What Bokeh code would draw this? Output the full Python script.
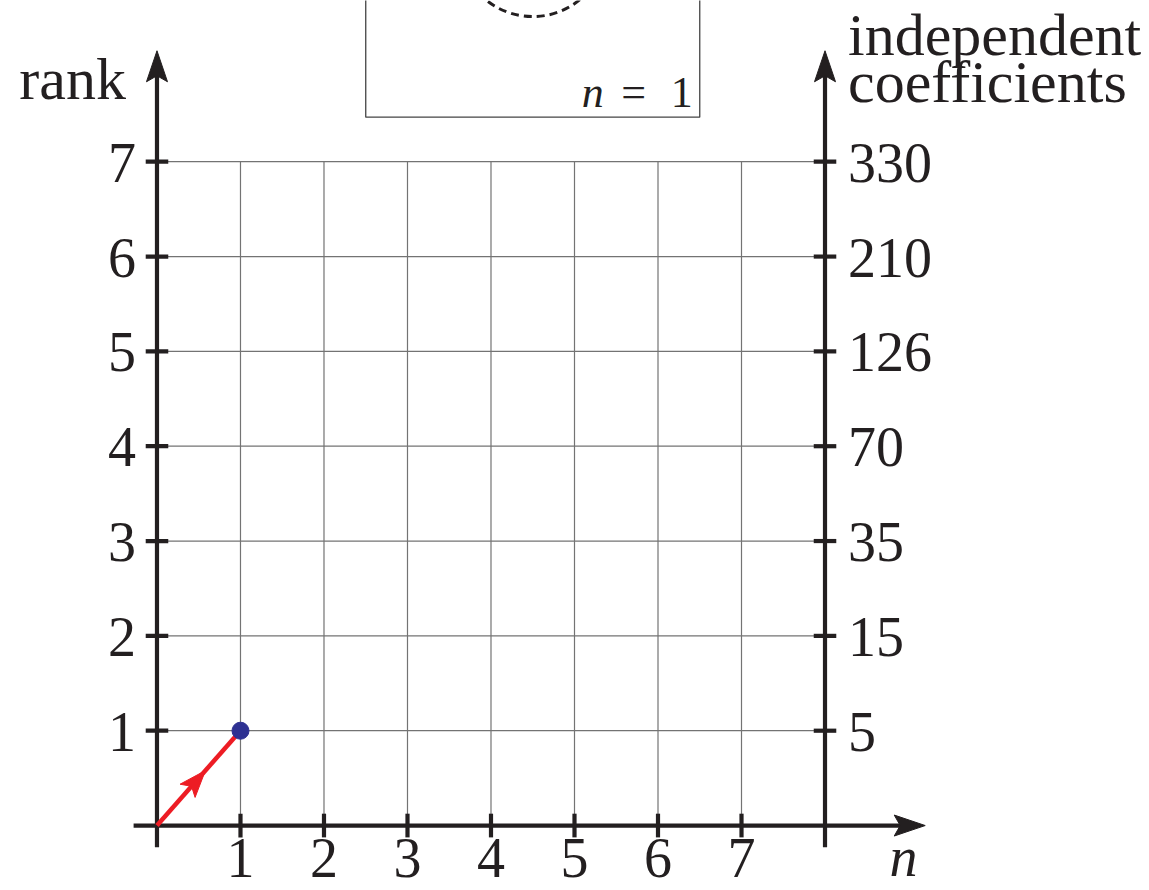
import math
from bokeh.plotting import figure
from bokeh.models import Range1d
from bokeh.core.properties import value
from bokeh.embed import file_html
from bokeh.resources import INLINE

# ---- data -------------------------------------------------------------
n_ticks = [1, 2, 3, 4, 5, 6, 7]
n_tick_labels = ["1", "2", "3", "4", "5", "6", "7"]
rank_ticks = [1, 2, 3, 4, 5, 6, 7]
rank_tick_labels = ["1", "2", "3", "4", "5", "6", "7"]
coeff_tick_labels = ["5", "15", "35", "70", "126", "210", "330"]

# highlighted state
point_n = [1]
point_rank = [1]

# ---- styling / layout -------------------------------------------------
INK = "#231f20"
GRID = "#737373"
RED = "#ed1c24"
BLUE = "#2e3192"
SERIF = "Liberation Serif"

W, H = 1149, 890
X0, X1 = -1.874, 11.886
Y0, Y1 = -0.685, 8.70
SX = W / (X1 - X0)   # pixels per x unit
SY = H / (Y1 - Y0)   # pixels per y unit

X_MAX = 8          # right-hand axis position
Y_MAX = 7          # top grid row
Y_TIP = 8.17       # arrow tip of the vertical axes
X_TIP = 9.2        # arrow tip of the horizontal axis
AX_LOW = -0.23     # how far axes run past the origin

p = figure(width=W, height=H, output_backend="svg", toolbar_location=None,
           x_range=Range1d(X0, X1), y_range=Range1d(Y0, Y1),
           x_axis_type=None, y_axis_type=None, min_border=0,
           outline_line_color=None, background_fill_color="white")
p.grid.visible = False


def arrow_head(tx, ty, dx, dy, length, half_w, notch, color):
    """Filled arrow head with its tip at (tx, ty), pointing along the screen
    direction (dx, dy); sizes are in pixels."""
    norm = math.hypot(dx, dy)
    ux, uy = dx / norm, dy / norm
    nx, ny = -uy, ux
    pts = [(0.0, 0.0),
           (-ux * length + nx * half_w, -uy * length + ny * half_w),
           (-ux * (length - notch), -uy * (length - notch)),
           (-ux * length - nx * half_w, -uy * length - ny * half_w)]
    p.patch(x=[tx + a / SX for a, _ in pts], y=[ty + b / SY for _, b in pts],
            fill_color=color, line_color=color, line_width=1)


# grid
p.segment(x0=n_ticks, y0=[0] * 7, x1=n_ticks, y1=[Y_MAX] * 7,
          line_color=GRID, line_width=1.2)
p.segment(x0=[0] * 7, y0=rank_ticks, x1=[X_MAX] * 7, y1=rank_ticks,
          line_color=GRID, line_width=1.2)

# inset panel at the top
p.quad(left=[2.5], right=[6.5], bottom=[7.47], top=[9.6],
       fill_color="white", line_color="#444444", line_width=1.3)
p.scatter(x=[4.5], y=[9.31], marker="circle", size=148, fill_color=None,
          line_color=INK, line_width=3, line_dash="8 5")
INSET_FS = "44px"
INSET_Y = 7.73
p.text(x=[6.5], y=[INSET_Y], text=["n"], text_font=value(SERIF), text_font_style="italic",
       text_font_size=INSET_FS, text_color=INK, text_align="left",
       text_baseline="middle", x_offset=-118)
p.text(x=[6.5], y=[INSET_Y], text=["="], text_font=value(SERIF),
       text_font_size=INSET_FS, text_color=INK, text_align="center",
       text_baseline="middle", x_offset=-66)
p.text(x=[6.5], y=[INSET_Y], text=["1"], text_font=value(SERIF),
       text_font_size=INSET_FS, text_color=INK, text_align="right",
       text_baseline="middle", x_offset=-7)

# axes lines with arrow heads
AXW = 4.2
p.segment(x0=[0, X_MAX], y0=[AX_LOW, AX_LOW], x1=[0, X_MAX], y1=[Y_TIP - 0.15, Y_TIP - 0.15],
          line_color=INK, line_width=AXW)
p.segment(x0=[-0.28], y0=[0], x1=[X_TIP - 0.15], y1=[0], line_color=INK, line_width=AXW)
arrow_head(0, Y_TIP, 0, 1, 31, 10.5, 6, INK)
arrow_head(X_MAX, Y_TIP, 0, 1, 31, 10.5, 6, INK)
arrow_head(X_TIP, 0, 1, 0, 31, 10.5, 6, INK)

# ticks
TK = 0.135
p.segment(x0=[-TK] * 7, y0=rank_ticks, x1=[TK] * 7, y1=rank_ticks, line_color=INK, line_width=AXW)
p.segment(x0=[X_MAX - TK] * 7, y0=rank_ticks, x1=[X_MAX + TK] * 7, y1=rank_ticks,
          line_color=INK, line_width=AXW)
p.segment(x0=n_ticks, y0=[-0.125] * 7, x1=n_ticks, y1=[0.125] * 7, line_color=INK, line_width=AXW)

# tick labels
FS = "56px"
p.text(x=[0] * 7, y=rank_ticks, text=rank_tick_labels, text_font=value(SERIF),
       text_font_size=FS, text_color=INK, text_align="right", text_baseline="middle",
       x_offset=-21, y_offset=1)
p.text(x=[X_MAX] * 7, y=rank_ticks, text=coeff_tick_labels, text_font=value(SERIF),
       text_font_size=FS, text_color=INK, text_align="left", text_baseline="middle",
       x_offset=23, y_offset=1)
p.text(x=n_ticks, y=[0] * 7, text=n_tick_labels, text_font=value(SERIF),
       text_font_size=FS, text_color=INK, text_align="center", text_baseline="middle",
       y_offset=32)

# axis titles
TFS = "60px"
p.text(x=[0], y=[7.87], text=["rank"], text_font=value(SERIF), text_font_size=TFS,
       text_color=INK, text_align="right", text_baseline="middle", x_offset=-31)
p.text(x=[X_MAX, X_MAX], y=[8.34, 7.84], text=["independent", "coefficients"],
       text_font=value(SERIF), text_font_size=TFS, text_color=INK, text_align="left",
       text_baseline="middle", x_offset=23)
p.text(x=[8.94], y=[-0.33], text=["n"], text_font=value(SERIF), text_font_style="italic",
       text_font_size=FS, text_color=INK, text_align="center", text_baseline="middle")

# path from origin to the point, with a direction marker half way
p.segment(x0=[0], y0=[0], x1=point_n, y1=point_rank, line_color=RED, line_width=4.5)
arrow_head(0.58 * point_n[0], 0.58 * point_rank[0],
           point_n[0] * SX, point_rank[0] * SY, 27, 10, 6, RED)
p.scatter(x=point_n, y=point_rank, marker="circle", size=17,
          fill_color=BLUE, line_color=BLUE)

open("out.html", "w").write(file_html(p, INLINE))
